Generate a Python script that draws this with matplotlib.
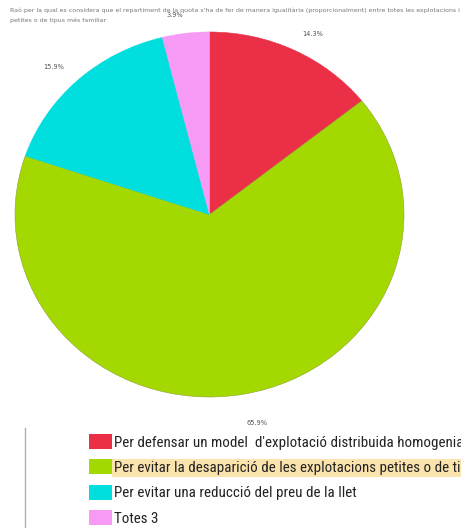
import matplotlib
matplotlib.use("Agg")
import matplotlib.pyplot as plt
from matplotlib.lines import Line2D

categories = [
    "Per defensar un model  d'explotació distribuida homogeniament pel territori",
    "Per evitar la desaparició de les explotacions petites o de tipus més familiar",
    "Per evitar una reducció del preu de la llet",
    "Totes 3",
]
values = [14.3, 65.9, 15.9, 3.9]
pct_labels = ["14.3%", "65.9%", "15.9%", "3.9%"]
colors = ["#ea2f47", "#a3d900", "#00dede", "#f79af5"]
title_lines = [
    "Raó per la qual es considera que el repartiment de la quota s'ha de fer de manera igualitària (proporcionalment) entre totes les explotacions i no a les",
    "petites o de tipus més familiar",
]

W, H = 461, 528
fig = plt.figure(figsize=(W / 100, H / 100), dpi=100)
fig.patch.set_facecolor("white")

px_l, px_r, px_t, px_b = 15, 404, 32, 397
ax = fig.add_axes([px_l / W, 1 - px_b / H, (px_r - px_l) / W, (px_b - px_t) / H])
wedges, texts = ax.pie(values, labels=pct_labels, colors=colors, startangle=90,
                       counterclock=False, labeldistance=1.1,
                       wedgeprops=dict(linewidth=0.4),
                       textprops=dict(fontsize=4.8, color="#555555"))
for w, c in zip(wedges, colors):
    w.set_edgecolor(c)
wedges[1].set_edgecolor("#8fa030")
ax.set_aspect("auto")
ax.set_xlim(-1, 1)
ax.set_ylim(-1, 1)
ax.axis("off")
for t in texts:
    t.set_clip_on(False)
texts[1].set_y(texts[1].get_position()[1] - 0.06)

fig.text(10 / W, 1 - 10 / H, title_lines[0], fontsize=4.5, color="#777777", va="center", ha="left")
fig.text(10 / W, 1 - 20 / H, title_lines[1], fontsize=4.5, color="#777777", va="center", ha="left")

fig.add_artist(Line2D([25 / W, 25 / W], [0, 1 - 428 / H], color="#b0b0b0", linewidth=1.0))

fs = 10.8
leg = fig.legend(wedges, categories, loc="upper left",
                 bbox_to_anchor=(89 / W, 1 - 434 / H),
                 frameon=False,
                 prop=dict(family=["Roboto Condensed", "DejaVu Sans"], size=fs),
                 handlelength=1.52, handleheight=1.15, handletextpad=0.15,
                 labelspacing=0.66, borderpad=0.0, borderaxespad=0.0)
for h in leg.legend_handles:
    h.set_edgecolor("none")
legtexts = leg.get_texts()
for t in legtexts:
    t.set_color("#222222")
legtexts[1].set_bbox(dict(facecolor="#fbe3ad", edgecolor="none", pad=1.5))

fig.savefig("out.png", dpi=100)
